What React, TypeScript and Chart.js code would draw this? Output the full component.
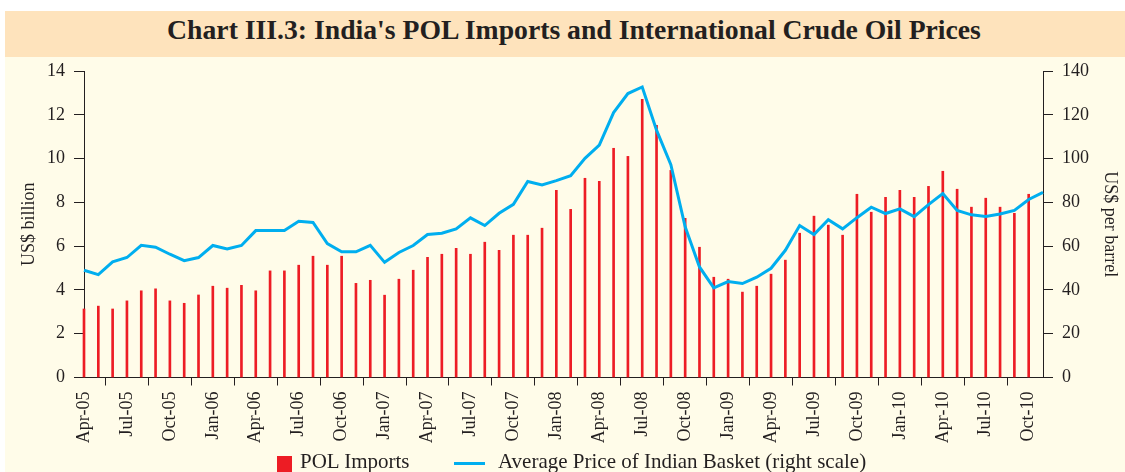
import React, { useEffect, useRef } from 'react';
import { Chart, registerables } from 'chart.js';

Chart.register(...registerables);

const months = [
  'Apr-05', 'May-05', 'Jun-05', 'Jul-05', 'Aug-05', 'Sep-05', 'Oct-05', 'Nov-05', 'Dec-05',
  'Jan-06', 'Feb-06', 'Mar-06', 'Apr-06', 'May-06', 'Jun-06', 'Jul-06', 'Aug-06', 'Sep-06', 'Oct-06', 'Nov-06', 'Dec-06',
  'Jan-07', 'Feb-07', 'Mar-07', 'Apr-07', 'May-07', 'Jun-07', 'Jul-07', 'Aug-07', 'Sep-07', 'Oct-07', 'Nov-07', 'Dec-07',
  'Jan-08', 'Feb-08', 'Mar-08', 'Apr-08', 'May-08', 'Jun-08', 'Jul-08', 'Aug-08', 'Sep-08', 'Oct-08', 'Nov-08', 'Dec-08',
  'Jan-09', 'Feb-09', 'Mar-09', 'Apr-09', 'May-09', 'Jun-09', 'Jul-09', 'Aug-09', 'Sep-09', 'Oct-09', 'Nov-09', 'Dec-09',
  'Jan-10', 'Feb-10', 'Mar-10', 'Apr-10', 'May-10', 'Jun-10', 'Jul-10', 'Aug-10', 'Sep-10', 'Oct-10', 'Nov-10',
];

// US$ billion
const polImports: (number | null)[] = [
  3.13, 3.26, 3.13, 3.5, 3.96, 4.05, 3.5, 3.39, 3.77,
  4.17, 4.08, 4.21, 3.96, 4.87, 4.87, 5.13, 5.54, 5.13, 5.54, 4.3, 4.44,
  3.76, 4.49, 4.9, 5.49, 5.63, 5.9, 5.63, 6.18, 5.81, 6.5, 6.5, 6.82,
  8.55, 7.68, 9.1, 8.96, 10.47, 10.1, 12.71, 11.52, 9.46, 7.27, 5.95, 4.58,
  4.49, 3.9, 4.17, 4.72, 5.36, 6.59, 7.37, 6.96, 6.5, 8.37, 7.55, 8.23,
  8.55, 8.23, 8.73, 9.42, 8.6, 7.78, 8.19, 7.78, 7.5, 8.37, null,
];

// US$ per barrel
const basketPrice = [
  49.0, 47.0, 52.8, 54.8, 60.4, 59.5, 56.3, 53.4, 54.8,
  60.3, 58.7, 60.3, 67.1, 67.1, 67.1, 71.4, 70.8, 61.2, 57.4, 57.4, 60.4,
  52.6, 57.1, 60.3, 65.3, 65.9, 67.9, 72.9, 69.4, 75.0, 79.1, 89.5, 88.0,
  89.9, 92.2, 100.1, 106.1, 121.0, 129.7, 132.7, 113.0, 97.2, 68.8, 50.5, 40.9,
  43.8, 42.9, 45.8, 49.9, 58.1, 69.4, 65.3, 72.1, 67.9, 73.0, 77.8, 74.9,
  77.0, 73.5, 79.0, 84.0, 76.3, 74.3, 73.5, 74.7, 76.3, 81.3, 84.6,
];

const leftAxisMax = 14;
const leftAxisStep = 2;
const rightAxisMax = 140;
const rightAxisStep = 20;

const titleText = "Chart III.3: India's POL Imports and International Crude Oil Prices";
const barLabel = 'POL Imports';
const lineLabel = 'Average Price of Indian Basket (right scale)';

const RED = '#ED1C24';
const BLUE = '#00AEEF';
const AXIS = '#231F20';
const TEXT = '#231F20';
const CREAM = '#FFFCE9';
const PEACH = '#FEE3BC';
const FONT = "'Liberation Serif', 'Times New Roman', serif";

export default function App() {
  const ref = useRef<HTMLCanvasElement | null>(null);

  useEffect(() => {
    if (!ref.current) return;
    const tickFont = { family: FONT, size: 18 };
    const chart = new Chart(ref.current, {
      type: 'bar',
      data: {
        labels: months,
        datasets: [
          {
            type: 'line',
            label: lineLabel,
            data: basketPrice,
            yAxisID: 'y1',
            borderColor: BLUE,
            backgroundColor: BLUE,
            borderWidth: 3,
            pointRadius: 0,
            tension: 0,
            order: 0,
          } as any,
          {
            type: 'bar',
            label: barLabel,
            data: polImports,
            yAxisID: 'y',
            backgroundColor: RED,
            borderWidth: 0,
            barThickness: 2,
            clip: false,
            order: 1,
          } as any,
        ],
      },
      options: {
        responsive: false,
        animation: false,
        devicePixelRatio: 1,
        layout: { padding: { top: 71, left: 0, right: 0, bottom: 0 } },
        plugins: {
          legend: { display: false },
          tooltip: { enabled: false },
          title: { display: false },
        },
        scales: {
          x: {
            offset: false,
            grid: { display: true, drawOnChartArea: false, drawTicks: true, tickLength: 8, color: AXIS },
            border: { display: true, color: AXIS, width: 1 },
            ticks: {
              autoSkip: false,
              maxRotation: 90,
              minRotation: 90,
              padding: 6,
              color: TEXT,
              font: tickFont,
            },
            afterBuildTicks: (s: any) => {
              s.ticks = s.ticks.filter((_t: any, i: number) => i % 3 === 0);
            },
            afterFit: (s: any) => {
              s.height = 94.5;
            },
          },
          y: {
            position: 'left',
            min: 0,
            max: leftAxisMax,
            grid: { display: true, drawOnChartArea: false, drawTicks: true, tickLength: 10, color: AXIS },
            border: { display: true, color: AXIS, width: 1 },
            ticks: { stepSize: leftAxisStep, padding: 9, color: TEXT, font: tickFont },
            title: {
              display: true,
              text: 'US$ billion',
              color: TEXT,
              font: tickFont,
              padding: { top: 18, bottom: 0 },
            },
            afterFit: (s: any) => {
              s.width = 84;
            },
          },
          y1: {
            position: 'right',
            min: 0,
            max: rightAxisMax,
            grid: { display: true, drawOnChartArea: false, drawTicks: true, tickLength: 10, color: AXIS },
            border: { display: true, color: AXIS, width: 1 },
            ticks: { stepSize: rightAxisStep, padding: 9, color: TEXT, font: tickFont },
            title: {
              display: true,
              text: 'US$ per barrel',
              color: TEXT,
              font: tickFont,
              padding: { top: 4, bottom: 0 },
            },
            afterFit: (s: any) => {
              s.width = 82;
            },
          },
        },
      } as any,
    });
    return () => chart.destroy();
  }, []);

  const legendText = {
    position: 'absolute' as const,
    top: 451,
    fontFamily: FONT,
    fontSize: 21,
    lineHeight: '21px',
    color: TEXT,
    whiteSpace: 'nowrap' as const,
  };

  return (
    <div style={{ position: 'absolute', left: 0, top: 0, width: 1125, height: 472, background: '#ffffff', overflow: 'hidden' }}>
      <div style={{ position: 'absolute', left: 5, top: 57, width: 1120, height: 415, background: CREAM }} />
      <div style={{ position: 'absolute', left: 5, top: 11, width: 1120, height: 46, background: PEACH }} />
      <div
        style={{
          position: 'absolute',
          left: 23,
          top: 16,
          width: 1102,
          textAlign: 'center',
          fontFamily: FONT,
          fontWeight: 'bold',
          fontSize: 27.7,
          lineHeight: '28px',
          color: TEXT,
          whiteSpace: 'nowrap',
        }}
      >
        {titleText}
      </div>
      <canvas ref={ref} width={1125} height={472} style={{ position: 'absolute', left: 0, top: 0, width: 1125, height: 472 }} />
      <div style={{ position: 'absolute', left: 277, top: 456, width: 15, height: 16, background: RED }} />
      <div style={{ ...legendText, left: 300 }}>{barLabel}</div>
      <div style={{ position: 'absolute', left: 454, top: 462, width: 31, height: 3, background: BLUE }} />
      <div style={{ ...legendText, left: 498 }}>{lineLabel}</div>
    </div>
  );
}
